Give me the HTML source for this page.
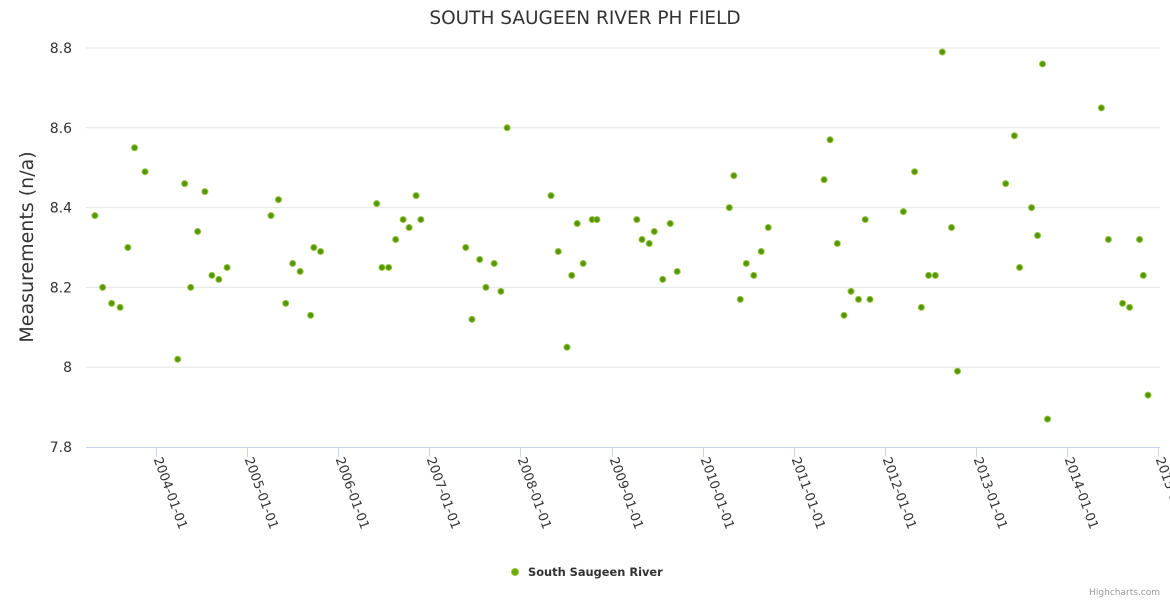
<!DOCTYPE html>
<html><head><meta charset="utf-8"><style>
body{margin:0;background:#fff}
svg{display:block;font-family:"DejaVu Sans","Liberation Sans",sans-serif}
</style></head><body>
<svg id="chart" width="1170" height="600">
<text x="585" y="24" text-anchor="middle" font-size="18.5" fill="#333">SOUTH SAUGEEN RIVER PH FIELD</text>
<text transform="translate(33,247) rotate(-90)" text-anchor="middle" font-size="19" fill="#333">Measurements (n/a)</text>
<g id="grid"></g><g id="xaxis"></g><g id="pts"></g>
<g>
<circle cx="515" cy="572" r="3.5" fill="#6fa800" stroke="#8dc63f" stroke-width="1"/>
<text x="528" y="576" font-size="11.4" font-weight="bold" fill="#333">South Saugeen River</text>
</g>
<text x="1160" y="595" text-anchor="end" font-size="9" fill="#999">Highcharts.com</text>
</svg>
<script>
const dates=["2003-05-01","2003-06-01","2003-07-07","2003-08-10","2003-09-10","2003-10-07","2003-11-18","2004-03-28","2004-04-25","2004-05-19","2004-06-16","2004-07-15","2004-08-12","2004-09-09","2004-10-12","2005-04-06","2005-05-06","2005-06-04","2005-07-02","2005-08-01","2005-09-12","2005-09-25","2005-10-22","2006-06-04","2006-06-25","2006-07-22","2006-08-19","2006-09-18","2006-10-12","2006-11-09","2006-11-28","2007-05-27","2007-06-21","2007-07-22","2007-08-16","2007-09-18","2007-10-15","2007-11-09","2008-05-03","2008-06-01","2008-07-06","2008-07-25","2008-08-16","2008-09-09","2008-10-15","2008-11-03","2009-04-12","2009-05-03","2009-06-01","2009-06-21","2009-07-25","2009-08-24","2009-09-21","2010-04-18","2010-05-06","2010-06-01","2010-06-25","2010-07-25","2010-08-24","2010-09-21","2011-05-03","2011-05-27","2011-06-25","2011-07-22","2011-08-19","2011-09-18","2011-10-15","2011-11-03","2012-03-16","2012-04-30","2012-05-27","2012-06-25","2012-07-22","2012-08-19","2012-09-25","2012-10-19","2013-04-30","2013-06-04","2013-06-25","2013-08-12","2013-09-05","2013-09-25","2013-10-15","2014-05-19","2014-06-16","2014-08-12","2014-09-09","2014-10-19","2014-11-03","2014-11-22"];
const values=[8.38,8.20,8.16,8.15,8.30,8.55,8.49,8.02,8.46,8.20,8.34,8.44,8.23,8.22,8.25,8.38,8.42,8.16,8.26,8.24,8.13,8.30,8.29,8.41,8.25,8.25,8.32,8.37,8.35,8.43,8.37,8.30,8.12,8.27,8.20,8.26,8.19,8.60,8.43,8.29,8.05,8.23,8.36,8.26,8.37,8.37,8.37,8.32,8.31,8.34,8.22,8.36,8.24,8.40,8.48,8.17,8.26,8.23,8.29,8.35,8.47,8.57,8.31,8.13,8.19,8.17,8.37,8.17,8.39,8.49,8.15,8.23,8.23,8.79,8.35,7.99,8.46,8.58,8.25,8.40,8.33,8.76,7.87,8.65,8.32,8.16,8.15,8.32,8.23,7.93];
const yTicks=[7.8,8.0,8.2,8.4,8.6,8.8];
const yTickLabels=["7.8","8","8.2","8.4","8.6","8.8"];
const xTicks=["2004-01-01","2005-01-01","2006-01-01","2007-01-01","2008-01-01","2009-01-01","2010-01-01","2011-01-01","2012-01-01","2013-01-01","2014-01-01","2015-01-01"];
const NS="http://www.w3.org/2000/svg";
const L=86,R=1160,T0=Date.UTC(2004,0,1),T1=Date.UTC(2015,0,1);
function t(s){const p=s.split('-');return Date.UTC(+p[0],p[1]-1,+p[2]);}
function xs(s){return 156+(t(s)-T0)/(T1-T0)*(1158-156);}
function ys(v){return 447-(v-7.8)/1.0*399;}
function mk(tag,a,parent){const e=document.createElementNS(NS,tag);for(const k in a)e.setAttribute(k,a[k]);parent.appendChild(e);return e;}
const grid=document.getElementById('grid');
yTicks.forEach((v,i)=>{
  if(i>0){const g=mk('line',{x1:L,x2:R,y1:ys(v),y2:ys(v),stroke:'#e6e6e6','stroke-width':1},grid);
  
  }
  const tx=mk('text',{x:72,y:ys(v)+5,'text-anchor':'end','font-size':14,fill:'#333'},grid);
  tx.textContent=yTickLabels[i];
  
  
});
const xa=document.getElementById('xaxis');
const al=mk('line',{x1:L,x2:R,y1:447.5,y2:447.5,stroke:'#ccd6eb','stroke-width':1},xa);


xTicks.forEach(d=>{
  const x=Math.round(xs(d))+0.5;
  const tk=mk('line',{x1:x,x2:x,y1:447,y2:457,stroke:'#ccd6eb'},xa);
  
  
  const tx=mk('text',{transform:`translate(${x-3},${459}) rotate(70)`,'font-size':13,fill:'#333'},xa);
  tx.textContent=d;
  
  
});
const pts=document.getElementById('pts');
dates.forEach((d,i)=>{
  const c=mk('circle',{cx:xs(d),cy:ys(values[i]),r:3,fill:'#5a9400',stroke:'#8dc63f','stroke-width':1},pts);
  
  
});
</script>
</body></html>
